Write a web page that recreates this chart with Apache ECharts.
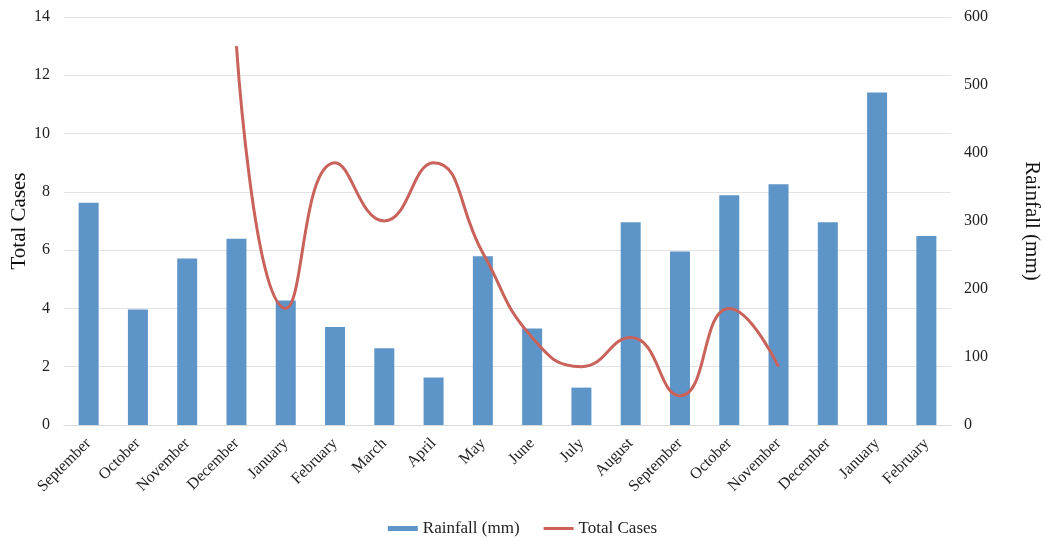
<!DOCTYPE html>
<html><head><meta charset="utf-8">
<script src="https://cdn.jsdelivr.net/npm/echarts@6/dist/echarts.min.js"></script>
<style>html,body{margin:0;padding:0;background:#fff}#c{width:1045px;height:540px}</style>
</head><body><div id="c"></div>
<script>
const categories = ["September","October","November","December","January","February","March","April","May","June","July","August","September","October","November","December","January","February"];
const rainfall = [327,170,245,274,183,144,113,70,248,142,55,298,255,338,354,298,489,278];
const totalCases = [null,null,null,13,4,9,7,9,5.9,3,2,3,1,4,2,null,null,null];
const leftTicks = [0,14,2];
const rightTicks = [0,600,100];

const font = '"Liberation Serif","Times New Roman",serif';
const chart = echarts.init(document.getElementById('c'));
chart.setOption({
  animation:false,
  textStyle:{fontFamily:font},
  grid:{left:64,right:94,top:17,bottom:115,outerBoundsMode:'none',containLabel:false},
  legend:{bottom:-2,left:'center',itemGap:24,itemWidth:30,itemHeight:6,
    textStyle:{fontFamily:font,fontSize:17,color:'#222'},
    data:[{name:'Rainfall (mm)',icon:'path://M0,0L30,0L30,5L0,5Z'},
          {name:'Total Cases',icon:'path://M0,0L30,0L30,3L0,3Z'}]},
  xAxis:{type:'category',data:categories,
    axisLine:{lineStyle:{color:'#d9d9d9'}},axisTick:{show:false},
    axisLabel:{rotate:45,interval:0,fontFamily:font,fontSize:16,color:'#222',margin:16}},
  yAxis:[
    {type:'value',name:'Total Cases',nameLocation:'middle',nameGap:34,nameRotate:90,nameMoveOverlap:false,
     nameTextStyle:{fontFamily:font,fontSize:21,color:'#111'},
     min:leftTicks[0],max:leftTicks[1],interval:leftTicks[2],
     axisLabel:{fontFamily:font,fontSize:16,color:'#222',margin:14},
     axisLine:{show:false},axisTick:{show:false},
     splitLine:{lineStyle:{color:'#e3e3e3',width:1.2}}},
    {type:'value',name:'Rainfall (mm)',nameLocation:'middle',nameGap:70,nameRotate:-90,
     nameTextStyle:{fontFamily:font,fontSize:21,color:'#111'},
     min:rightTicks[0],max:rightTicks[1],interval:rightTicks[2],
     axisLabel:{fontFamily:font,fontSize:16,color:'#222',margin:13},
     axisLine:{show:false},axisTick:{show:false},splitLine:{show:false}}
  ],
  series:[
    {name:'Rainfall (mm)',type:'bar',yAxisIndex:1,data:rainfall,barWidth:20,
     itemStyle:{color:'#5e95c9'}},
    {name:'Total Cases',type:'line',yAxisIndex:0,data:totalCases,smooth:0.5,
     showSymbol:false,symbol:'none',connectNulls:false,
     lineStyle:{color:'#c8625a',width:3},itemStyle:{color:'#c8625a'}}
  ]
});
</script></body></html>
